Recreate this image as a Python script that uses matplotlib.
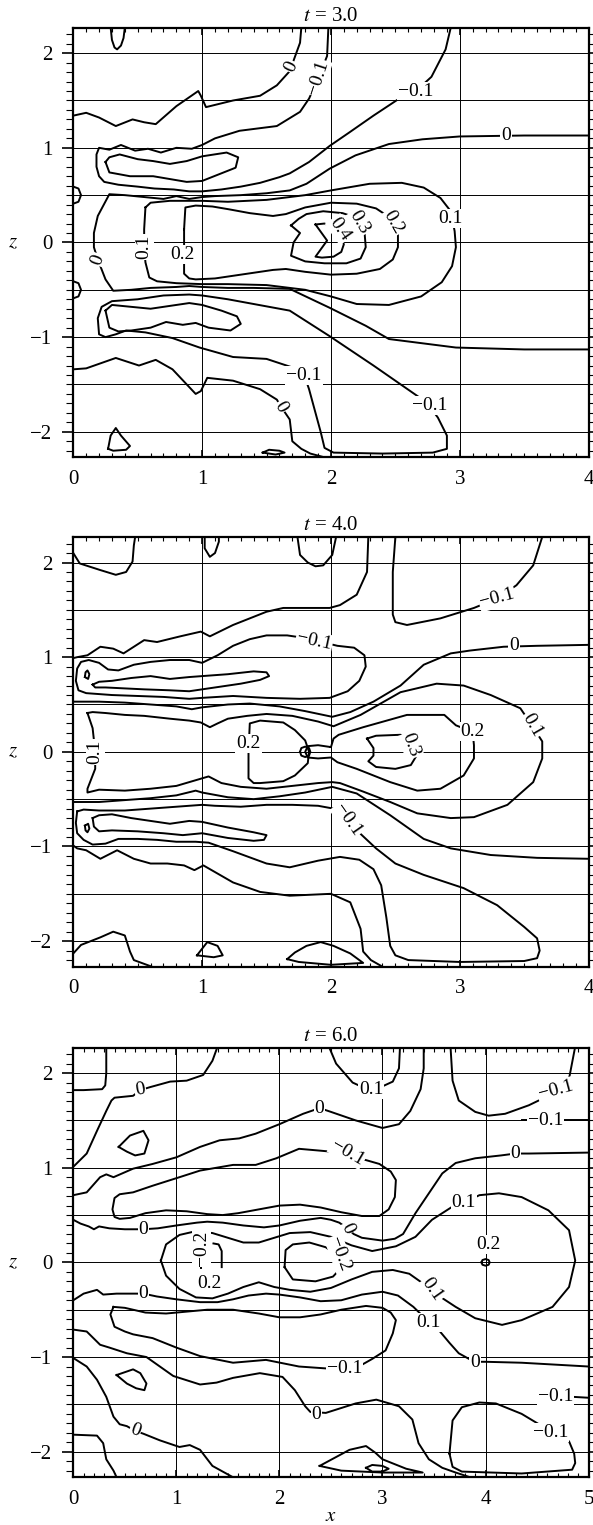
import numpy as np
import matplotlib.pyplot as plt
from matplotlib.ticker import MultipleLocator

plt.rcParams['font.family'] = ['Liberation Serif', 'DejaVu Serif']
plt.rcParams['mathtext.fontset'] = 'stix'

# ---------------- t = 3.0 : contour polylines (x, z)
t3_lines = [
    ([0.29, 0.30, 0.32, 0.34, 0.37, 0.39, 0.40], [2.27, 2.14, 2.06, 2.04, 2.08, 2.16, 2.27]),
    ([0, 0.1, 0.2, 0.33, 0.46, 0.55, 0.64, 0.8, 0.97, 0.99, 1.03, 1.24, 1.45, 1.58, 1.68, 1.76, 1.77],
     [1.34, 1.37, 1.32, 1.23, 1.30, 1.27, 1.25, 1.44, 1.60, 1.55, 1.43, 1.50, 1.55, 1.66, 1.81, 2.11, 2.27]),
    ([1.98, 1.97, 1.90, 1.83, 1.76, 1.58, 1.29, 1.1, 1.0, 0.92, 0.8, 0.68, 0.58, 0.48, 0.37, 0.28, 0.2, 0.18,
      0.18, 0.2, 0.24, 0.35, 0.5, 0.63, 0.78, 0.9, 1.0, 1.15, 1.3, 1.45, 1.6, 1.68, 1.83, 1.99, 2.14, 2.33,
      2.53, 2.66, 2.78, 2.89, 2.93],
     [2.27, 1.97, 1.73, 1.52, 1.38, 1.23, 1.18, 1.1, 1.03, 0.99, 1.0, 0.95, 0.99, 0.97, 1.03, 0.98, 1.0, 0.93,
      0.8, 0.7, 0.64, 0.61, 0.59, 0.57, 0.56, 0.54, 0.54, 0.56, 0.59, 0.63, 0.69, 0.73, 0.85, 1.02, 1.16, 1.34,
      1.52, 1.60, 1.75, 2.04, 2.27]),
    ([0.25, 0.28, 0.36, 0.5, 0.62, 0.75, 0.88, 1.0, 1.19, 1.28, 1.26, 1.13, 1.0, 0.88, 0.75, 0.62, 0.44, 0.28, 0.25],
     [0.85, 0.9, 0.93, 0.88, 0.86, 0.83, 0.86, 0.91, 0.95, 0.9, 0.79, 0.72, 0.65, 0.64, 0.67, 0.70, 0.70, 0.74, 0.85]),
    ([0.25, 0.3, 0.45, 0.6, 0.75, 0.9, 1.0, 1.15, 1.27, 1.3, 1.22, 1.05, 0.95, 0.85, 0.72, 0.6, 0.45, 0.35, 0.28, 0.25],
     [-0.72, -0.66, -0.68, -0.70, -0.67, -0.64, -0.66, -0.72, -0.78, -0.86, -0.93, -0.9, -0.85, -0.87, -0.84,
      -0.9, -0.93, -0.94, -0.9, -0.72]),
    ([4.0, 3.5, 3.0, 2.71, 2.45, 2.19, 1.99, 1.81, 1.68, 1.5, 1.3, 1.1, 1.0, 0.9, 0.8, 0.7, 0.55, 0.4, 0.28, 0.19,
      0.16, 0.16, 0.19, 0.25, 0.31, 0.45, 0.6, 0.8, 0.9, 1.0, 1.2, 1.4, 1.68, 1.99, 2.27, 2.45, 2.97, 3.5, 4.0],
     [1.13, 1.13, 1.12, 1.09, 1.04, 0.92, 0.78, 0.62, 0.55, 0.52, 0.5, 0.49, 0.48, 0.46, 0.49, 0.46, 0.48, 0.5,
      0.51, 0.28, 0.1, -0.05, -0.18, -0.39, -0.51, -0.5, -0.48, -0.47, -0.46, -0.47, -0.48, -0.48, -0.49, -0.69,
      -0.88, -1.02, -1.11, -1.13, -1.13]),
    ([1.81, 1.83, 1.87, 1.92, 1.95, 2.02, 2.4, 2.79, 2.9, 2.9, 2.83, 2.77, 2.69, 2.33, 1.99, 1.68, 1.4, 1.2, 1.0,
      0.9, 0.7, 0.5, 0.3, 0.22, 0.19, 0.2, 0.25, 0.33, 0.41, 0.56, 0.77, 0.98, 1.24, 1.50, 1.70, 1.81],
     [-1.47, -1.55, -1.75, -2.0, -2.17, -2.22, -2.23, -2.22, -2.18, -2.04, -1.85, -1.74, -1.64, -1.3, -0.99, -0.72,
      -0.65, -0.6, -0.56, -0.55, -0.56, -0.6, -0.62, -0.68, -0.8, -0.97, -1.0, -0.97, -0.93, -0.95, -1.01, -1.11,
      -1.21, -1.23, -1.32, -1.47]),
    ([0, 0.1, 0.33, 0.51, 0.64, 0.77, 0.95, 0.99, 1.04, 1.24, 1.45, 1.58, 1.61, 1.68, 1.70, 1.77, 1.84, 1.95],
     [-1.34, -1.33, -1.22, -1.30, -1.24, -1.34, -1.60, -1.57, -1.43, -1.46, -1.55, -1.66, -1.73, -1.87, -2.1,
      -2.18, -2.23, -2.27]),
    ([0.56, 0.6, 0.75, 0.9, 1.0, 1.2, 1.5, 1.8, 2.0, 2.3, 2.55, 2.72, 2.85, 2.93, 2.96, 2.97, 2.94, 2.86, 2.7,
      2.45, 2.2, 2.0, 1.8, 1.5, 1.2, 1.0, 0.8, 0.65, 0.59, 0.56, 0.55, 0.55, 0.56],
     [0.37, 0.42, 0.44, 0.44, 0.44, 0.43, 0.45, 0.5, 0.55, 0.62, 0.63, 0.58, 0.47, 0.33, 0.12, -0.05, -0.25,
      -0.42, -0.57, -0.66, -0.65, -0.57, -0.5, -0.45, -0.44, -0.44, -0.43, -0.41, -0.37, -0.21, -0.05, 0.14, 0.37]),
    ([0.86, 0.87, 0.95, 1.08, 1.21, 1.37, 1.55, 1.65, 1.8, 2.0, 2.2, 2.35, 2.45, 2.52, 2.52, 2.48, 2.38, 2.2,
      2.0, 1.8, 1.65, 1.55, 1.3, 1.1, 0.95, 0.9, 0.86, 0.86, 0.86],
     [0.14, 0.37, 0.39, 0.38, 0.35, 0.31, 0.28, 0.3, 0.37, 0.42, 0.41, 0.36, 0.27, 0.1, -0.05, -0.18, -0.28,
      -0.33, -0.34, -0.31, -0.28, -0.29, -0.34, -0.38, -0.39, -0.38, -0.33, -0.13, 0.14]),
    ([1.69, 1.75, 1.81, 1.94, 2.09, 2.2, 2.26, 2.27, 2.23, 2.12, 1.95, 1.8, 1.69, 1.71, 1.76, 1.69],
     [0.18, 0.25, 0.3, 0.33, 0.31, 0.26, 0.12, -0.05, -0.17, -0.22, -0.22, -0.2, -0.14, 0.0, 0.1, 0.18]),
    ([1.88, 1.95, 2.02, 2.08, 2.1, 2.08, 2.02, 1.93, 1.88, 1.97, 1.88],
     [0.19, 0.2, 0.16, 0.08, -0.02, -0.1, -0.15, -0.16, -0.15, 0.02, 0.19]),
    ([0, 0.04, 0.06, 0.04, 0], [0.59, 0.57, 0.5, 0.43, 0.41]),
    ([0, 0.04, 0.06, 0.04, 0], [-0.41, -0.43, -0.5, -0.57, -0.59]),
    ([0.27, 0.29, 0.33, 0.37, 0.44, 0.41, 0.31, 0.27], [-2.18, -2.04, -1.96, -2.04, -2.15, -2.19, -2.2, -2.18]),
    ([1.47, 1.52, 1.6, 1.64, 1.57, 1.47], [-2.22, -2.19, -2.2, -2.22, -2.24, -2.22]),
]
t3_labels = [
    ("0", 1.69, 1.86, 65), ("−0.1", 1.90, 1.74, 72), ("−0.1", 2.66, 1.60, 0),
    ("0", 3.36, 1.13, 0), ("0.1", 2.93, 0.25, 0), ("0.2", 2.48, 0.21, -60),
    ("0.3", 2.22, 0.21, -60), ("0.4", 2.07, 0.14, -55), ("0.2", 0.85, -0.13, 0),
    ("0.1", 0.55, -0.05, 90), ("0", 0.19, -0.18, 70), ("−0.1", 1.79, -1.41, 0),
    ("−0.1", 2.77, -1.72, 0), ("0", 1.61, -1.74, -60),
]

# ---------------- t = 4.0
t4_lines = [
    ([0, 0.05, 0.21, 0.33, 0.41, 0.46, 0.47, 0.48], [2.10, 1.99, 1.92, 1.87, 1.90, 2.01, 2.18, 2.27]),
    ([1.02, 1.02, 1.06, 1.10, 1.13, 1.13], [2.27, 2.15, 2.06, 2.10, 2.22, 2.27]),
    ([1.74, 1.76, 1.82, 1.88, 1.94, 2.01, 2.04], [2.27, 2.08, 2.0, 1.96, 1.97, 2.08, 2.27]),
    ([0, 0.03, 0.11, 0.21, 0.31, 0.39, 0.55, 0.65, 0.83, 0.99, 1.06, 1.24, 1.5, 1.63, 1.76, 1.99, 2.07, 2.20,
      2.28, 2.29],
     [0.99, 1.0, 1.02, 1.11, 1.09, 1.04, 1.18, 1.16, 1.22, 1.27, 1.22, 1.34, 1.48, 1.52, 1.52, 1.52, 1.55, 1.66,
      1.90, 2.27]),
    ([1.96, 2.05, 2.18, 2.26, 2.27, 2.22, 2.13, 1.99, 1.76, 1.5, 1.24, 1.0, 0.9, 0.7, 0.5, 0.3, 0.1, 0.04, 0.02,
      0.03, 0.06, 0.12, 0.2, 0.27, 0.35, 0.47, 0.6, 0.75, 0.9, 1.0, 1.12, 1.24, 1.37, 1.5, 1.66, 1.76, 1.87, 1.96],
     [1.15, 1.12, 1.1, 1.02, 0.9, 0.75, 0.64, 0.57, 0.56, 0.57, 0.59, 0.57, 0.56, 0.58, 0.59, 0.6, 0.62, 0.65,
      0.75, 0.88, 0.95, 0.97, 0.94, 0.87, 0.86, 0.92, 0.95, 0.97, 0.97, 0.94, 1.02, 1.12, 1.19, 1.23, 1.23, 1.21,
      1.18, 1.15]),
    ([0.15, 0.2, 0.3, 0.45, 0.6, 0.75, 0.9, 1.0, 1.2, 1.4, 1.5, 1.52, 1.45, 1.3, 1.15, 1.0, 0.9, 0.75, 0.55, 0.4,
      0.25, 0.17, 0.15],
     [0.71, 0.74, 0.75, 0.78, 0.8, 0.77, 0.79, 0.8, 0.82, 0.85, 0.84, 0.8, 0.76, 0.72, 0.69, 0.66, 0.64, 0.65,
      0.66, 0.67, 0.68, 0.68, 0.71]),
    ([0.09, 0.095, 0.11, 0.125, 0.115, 0.09], [0.79, 0.84, 0.86, 0.82, 0.77, 0.79]),
    ([0, 0.05, 0.2, 0.4, 0.6, 0.8, 0.92, 1.0, 1.2, 1.37, 1.6, 1.8, 2.01, 2.15, 2.33, 2.54, 2.72, 2.93, 3.08,
      3.34, 3.6, 4.0],
     [0.53, 0.53, 0.53, 0.52, 0.5, 0.48, 0.45, 0.47, 0.5, 0.51, 0.48, 0.43, 0.37, 0.42, 0.53, 0.70, 0.92, 1.04,
      1.07, 1.11, 1.12, 1.13]),
    ([0.11, 0.15, 0.25, 0.4, 0.55, 0.75, 0.9, 0.99, 1.06, 1.12, 1.2, 1.35, 1.5, 1.7, 1.9, 2.02, 2.23, 2.54, 2.82,
      3.03, 3.24, 3.47, 3.56, 3.64, 3.64, 3.57, 3.37, 3.11, 2.93, 2.67, 2.46, 2.25, 2.07, 2.01, 1.9, 1.7, 1.5,
      1.3, 1.15, 1.05, 0.95, 0.8, 0.6, 0.4, 0.2, 0.11, 0.11, 0.17, 0.17, 0.15, 0.11],
     [0.41, 0.42, 0.41, 0.39, 0.38, 0.35, 0.33, 0.31, 0.26, 0.3, 0.35, 0.38, 0.4, 0.38, 0.32, 0.27, 0.39, 0.63,
      0.72, 0.7, 0.6, 0.46, 0.28, 0.11, -0.07, -0.32, -0.56, -0.69, -0.7, -0.65, -0.53, -0.42, -0.33, -0.32,
      -0.33, -0.36, -0.39, -0.37, -0.33, -0.26, -0.3, -0.36, -0.39, -0.41, -0.4, -0.43, -0.39, -0.18, 0.0, 0.25,
      0.41]),
    ([1.36, 1.37, 1.45, 1.63, 1.72, 1.80, 1.83, 1.82, 1.72, 1.63, 1.45, 1.40, 1.36, 1.36],
     [0.0, 0.3, 0.33, 0.31, 0.23, 0.12, 0.0, -0.12, -0.25, -0.31, -0.33, -0.33, -0.28, 0.0]),
    ([1.76, 1.77, 1.80, 1.83, 1.84, 1.83, 1.80, 1.77, 1.76], [0, 0.04, 0.055, 0.04, 0, -0.04, -0.055, -0.04, 0]),
    ([2.0, 1.9, 1.82, 1.80, 1.82, 1.9, 2.0, 2.05, 2.2, 2.46, 2.67, 2.85, 3.03, 3.11, 3.11, 3.10, 2.97, 2.88,
      2.59, 2.25, 2.06, 2.02, 2.0],
     [0.05, 0.07, 0.06, 0.0, -0.06, -0.07, -0.06, -0.11, -0.18, -0.32, -0.41, -0.39, -0.25, -0.07, 0.07, 0.21,
      0.28, 0.39, 0.39, 0.26, 0.18, 0.14, 0.05]),
    ([2.28, 2.35, 2.54, 2.62, 2.66, 2.62, 2.5, 2.35, 2.29, 2.33, 2.33, 2.28],
     [0.14, 0.17, 0.18, 0.1, -0.05, -0.14, -0.18, -0.16, -0.1, -0.04, 0.04, 0.14]),
    ([2.5, 2.48, 2.48, 2.5, 2.59, 2.85, 3.11, 3.29, 3.44, 3.57, 3.64],
     [2.27, 1.90, 1.45, 1.37, 1.34, 1.41, 1.52, 1.62, 1.76, 1.97, 2.27]),
    ([0, 0.2, 0.4, 0.6, 0.8, 0.95, 1.0, 1.2, 1.4, 1.6, 1.8, 2.01, 2.2, 2.46, 2.72, 2.93, 3.24, 3.6, 4.0],
     [-0.53, -0.53, -0.51, -0.49, -0.46, -0.41, -0.43, -0.48, -0.5, -0.47, -0.43, -0.37, -0.44, -0.67, -0.92,
      -1.02, -1.09, -1.12, -1.13]),
    ([0.03, 0.02, 0.03, 0.08, 0.15, 0.25, 0.35, 0.5, 0.65, 0.8, 0.95, 1.05, 1.24, 1.5, 1.68, 1.9, 2.07, 2.22,
      2.33, 2.39, 2.43, 2.46, 2.5, 2.6, 3.0, 3.5, 3.6, 3.62, 3.6, 3.5, 3.29, 3.03, 2.72, 2.5, 2.35, 2.24, 2.12,
      2.02, 1.9, 1.7, 1.5, 1.3, 1.1, 1.0, 0.8, 0.6, 0.4, 0.2, 0.08, 0.03],
     [-0.63, -0.75, -0.86, -0.93, -0.98, -0.97, -0.92, -0.92, -0.93, -0.95, -0.95, -0.96, -1.05, -1.18, -1.22,
      -1.15, -1.11, -1.14, -1.24, -1.41, -1.75, -2.05, -2.15, -2.2, -2.22, -2.21, -2.18, -2.1, -1.97, -1.85,
      -1.62, -1.44, -1.30, -1.18, -1.02, -0.88, -0.72, -0.6, -0.57, -0.56, -0.56, -0.58, -0.57, -0.56, -0.58,
      -0.6, -0.62, -0.62, -0.61, -0.63]),
    ([0.15, 0.2, 0.3, 0.45, 0.6, 0.75, 0.9, 1.0, 1.2, 1.4, 1.5, 1.48, 1.4, 1.2, 1.0, 0.85, 0.7, 0.5, 0.3, 0.2,
      0.16, 0.15],
     [-0.7, -0.67, -0.66, -0.7, -0.73, -0.76, -0.73, -0.74, -0.8, -0.85, -0.88, -0.93, -0.94, -0.91, -0.86,
      -0.88, -0.86, -0.84, -0.83, -0.84, -0.79, -0.7]),
    ([0.09, 0.095, 0.11, 0.125, 0.115, 0.09], [-0.78, -0.83, -0.85, -0.81, -0.76, -0.78]),
    ([0, 0.03, 0.1, 0.21, 0.34, 0.47, 0.6, 0.73, 0.86, 0.94, 1.01, 1.24, 1.45, 1.68, 2.0, 2.15, 2.23, 2.25,
      2.31, 2.4],
     [-0.99, -1.02, -1.04, -1.13, -1.04, -1.13, -1.18, -1.18, -1.2, -1.25, -1.20, -1.38, -1.48, -1.52, -1.50,
      -1.59, -1.87, -2.11, -2.2, -2.27]),
    ([0, 0.06, 0.21, 0.31, 0.4, 0.44, 0.47, 0.57, 0.61], [-2.13, -2.04, -1.96, -1.90, -1.94, -2.11, -2.2, -2.25, -2.27]),
    ([0.96, 1.04, 1.12, 1.16, 1.09, 0.96], [-2.15, -2.01, -2.05, -2.15, -2.17, -2.15]),
    ([1.66, 1.72, 1.81, 1.92, 2.02, 2.15, 2.25, 2.0, 1.75, 1.66],
     [-2.19, -2.12, -2.05, -2.01, -2.05, -2.13, -2.23, -2.25, -2.22, -2.19]),
]
t4_labels = [
    ("−0.1", 3.29, 1.62, 15), ("0", 3.42, 1.12, 0), ("−0.1", 1.87, 1.17, -12),
    ("0.2", 1.36, 0.09, 0), ("0.3", 2.62, 0.07, -70), ("0.2", 3.10, 0.21, 0),
    ("0.1", 3.56, 0.28, -60), ("0.1", 0.17, 0.0, 90), ("−0.1", 2.13, -0.72, -55),
]

# ---------------- t = 6.0
t6_lines = [
    ([0.32, 0.32, 0.31, 0.28, 0.1, 0], [2.28, 2.0, 1.87, 1.83, 1.82, 1.82]),
    ([0, 0.13, 0.23, 0.32, 0.37, 0.4, 0.58, 0.65, 0.74, 0.94, 1.1, 1.26, 1.35, 1.4],
     [1.01, 1.15, 1.39, 1.6, 1.71, 1.74, 1.76, 1.82, 1.85, 1.91, 1.92, 1.98, 2.13, 2.28]),
    ([0.44, 0.55, 0.68, 0.73, 0.69, 0.6, 0.52, 0.44], [1.22, 1.34, 1.39, 1.29, 1.15, 1.13, 1.17, 1.22]),
    ([0, 0.13, 0.26, 0.32, 0.39, 0.58, 0.77, 1.0, 1.23, 1.42, 1.61, 1.77, 2.0, 2.23, 2.39, 2.5, 2.74, 3.0, 3.16,
      3.27, 3.37, 3.4, 3.4],
     [0.71, 0.74, 0.9, 0.93, 0.9, 0.99, 1.04, 1.11, 1.22, 1.29, 1.31, 1.36, 1.46, 1.57, 1.63, 1.59, 1.5, 1.42,
      1.46, 1.6, 1.83, 2.05, 2.28]),
    ([2.5, 2.4, 2.19, 1.97, 1.77, 1.55, 1.23, 1.03, 0.77, 0.58, 0.45, 0.4, 0.38, 0.4, 0.45, 0.55, 0.7, 0.9, 1.1,
      1.3, 1.45, 1.6, 1.8, 2.0, 2.2, 2.4, 2.6, 2.8, 2.97, 3.06, 3.12, 3.13, 3.08, 2.97, 2.81, 2.66, 2.5],
     [1.17, 1.18, 1.2, 1.1, 1.03, 1.03, 0.97, 0.9, 0.81, 0.74, 0.72, 0.68, 0.56, 0.48, 0.46, 0.47, 0.52, 0.55,
      0.54, 0.51, 0.5, 0.52, 0.56, 0.6, 0.61, 0.58, 0.53, 0.49, 0.49, 0.56, 0.69, 0.87, 0.96, 1.04, 1.09, 1.14,
      1.17]),
    ([2.48, 2.55, 2.71, 2.77, 2.89, 3.0, 3.1, 3.16, 3.17], [2.28, 2.1, 1.9, 1.87, 1.84, 1.86, 1.91, 2.05, 2.28]),
    ([3.66, 3.68, 3.74, 3.9, 4.03, 4.19, 4.42, 4.61, 4.68, 4.81, 4.87],
     [2.28, 1.92, 1.71, 1.59, 1.55, 1.57, 1.66, 1.76, 1.82, 1.94, 2.28]),
    ([4.35, 4.5, 4.7, 5.0], [1.5, 1.5, 1.5, 1.5]),
    ([0, 0.07, 0.15, 0.2, 0.25, 0.35, 0.5, 0.68, 0.82, 1.0, 1.2, 1.3, 1.45, 1.65, 1.85, 2.0, 2.2, 2.4, 2.5,
      2.58, 2.66, 2.72, 2.8, 3.0, 3.12, 3.2, 3.32, 3.45, 3.58, 3.71, 3.9, 4.15, 4.29, 4.42, 5.0],
     [0.45, 0.41, 0.38, 0.35, 0.38, 0.36, 0.35, 0.35, 0.36, 0.39, 0.42, 0.43, 0.42, 0.39, 0.37, 0.39, 0.44,
      0.47, 0.45, 0.42, 0.36, 0.3, 0.26, 0.23, 0.25, 0.3, 0.52, 0.73, 0.94, 1.05, 1.1, 1.13, 1.15, 1.15, 1.16]),
    ([0.85, 0.9, 1.03, 1.19, 1.35, 1.5, 1.65, 1.8, 1.95, 2.1, 2.3, 2.5, 2.7, 2.9, 3.13, 3.32, 3.48, 3.68, 3.79,
      3.94, 4.13, 4.35, 4.61, 4.81, 4.87, 4.81, 4.65, 4.35, 4.16, 3.9, 3.71, 3.57, 3.48, 3.39, 3.26, 3.1, 2.9,
      2.7, 2.5, 2.3, 2.1, 1.95, 1.8, 1.65, 1.5, 1.35, 1.19, 1.03, 0.9, 0.85],
     [0.02, 0.19, 0.29, 0.33, 0.31, 0.26, 0.21, 0.21, 0.26, 0.31, 0.32, 0.27, 0.18, 0.12, 0.17, 0.27, 0.45, 0.59,
      0.63, 0.71, 0.73, 0.69, 0.55, 0.34, 0.02, -0.26, -0.47, -0.61, -0.66, -0.59, -0.47, -0.37, -0.29, -0.22,
      -0.12, -0.08, -0.1, -0.18, -0.27, -0.31, -0.29, -0.26, -0.21, -0.26, -0.33, -0.38, -0.37, -0.28, -0.14,
      0.02]),
    ([2.05, 2.06, 2.13, 2.29, 2.45, 2.55, 2.6, 2.58, 2.52, 2.35, 2.13, 2.05],
     [-0.05, 0.13, 0.19, 0.21, 0.16, 0.08, -0.02, -0.08, -0.15, -0.2, -0.18, -0.05]),
    ([1.24, 1.24], [0.02, -0.06]),
    ([1.36, 1.41, 1.44, 1.44], [0.2, 0.19, 0.12, -0.05]),
    ([0.39, 0.36, 0.4, 0.5, 0.58, 0.77, 1.0, 1.23, 1.55, 1.87, 2.19, 2.45, 2.63, 2.77, 2.9, 3.03, 3.1, 3.13,
      3.08, 3.0, 2.84, 2.6, 2.4, 2.2, 2.0, 1.8, 1.55, 1.3, 1.1, 0.9, 0.7, 0.5, 0.39],
     [-0.47, -0.55, -0.68, -0.73, -0.76, -0.8, -0.9, -0.99, -1.06, -1.03, -1.1, -1.12, -1.12, -1.1, -1.02,
      -0.93, -0.75, -0.61, -0.53, -0.48, -0.46, -0.5, -0.55, -0.58, -0.58, -0.54, -0.5, -0.5, -0.52, -0.54,
      -0.53, -0.48, -0.47]),
    ([0, 0.1, 0.23, 0.29, 0.42, 0.55, 0.68, 0.81, 1.0, 1.23, 1.4, 1.55, 1.7, 1.87, 2.0, 2.2, 2.4, 2.6, 2.8, 3.0,
      3.15, 3.3, 3.45, 3.55, 3.65, 3.74, 3.84, 3.9, 4.0, 4.35, 5.0],
     [-0.4, -0.33, -0.29, -0.34, -0.33, -0.33, -0.33, -0.36, -0.39, -0.42, -0.42, -0.39, -0.35, -0.33, -0.34,
      -0.37, -0.41, -0.4, -0.34, -0.31, -0.35, -0.47, -0.63, -0.72, -0.85, -0.96, -1.02, -1.05, -1.05, -1.06,
      -1.1]),
    ([0, 0.13, 0.26, 0.35, 0.52, 0.71, 0.97, 1.23, 1.39, 1.55, 1.81, 2.03, 2.15, 2.25, 2.3, 2.45, 2.74, 2.94,
      3.16, 3.29, 3.35, 3.45, 3.58, 3.71, 3.85],
     [-0.71, -0.73, -0.87, -0.9, -0.96, -1.0, -1.2, -1.29, -1.27, -1.22, -1.17, -1.21, -1.35, -1.52, -1.58,
      -1.59, -1.49, -1.45, -1.52, -1.66, -1.91, -2.08, -2.17, -2.22, -2.27]),
    ([0, 0.13, 0.23, 0.32, 0.39, 0.45, 0.52, 0.6, 0.68, 0.84, 1.03, 1.13, 1.23, 1.35, 1.55],
     [-1.01, -1.1, -1.24, -1.42, -1.63, -1.71, -1.73, -1.78, -1.81, -1.88, -1.95, -1.93, -1.98, -2.15, -2.27]),
    ([0.42, 0.58, 0.65, 0.71, 0.69, 0.61, 0.52, 0.42], [-1.19, -1.13, -1.17, -1.28, -1.35, -1.33, -1.28, -1.19]),
    ([0, 0.23, 0.29, 0.32, 0.39, 0.42], [-1.82, -1.83, -1.91, -2.08, -2.2, -2.27]),
    ([2.39, 2.68, 2.84, 2.93, 3.0, 3.23, 3.39, 3.0, 2.6, 2.39],
     [-2.15, -1.98, -1.94, -2.01, -2.08, -2.18, -2.22, -2.22, -2.2, -2.15]),
    ([2.84, 2.9, 3.0, 3.06, 3.0, 2.9, 2.84], [-2.17, -2.14, -2.15, -2.18, -2.21, -2.21, -2.17]),
    ([3.65, 3.68, 3.77, 3.94, 4.1, 4.35, 4.61, 4.65, 4.81, 4.86, 4.87, 4.84, 4.35, 3.77, 3.68, 3.65],
     [-2.02, -1.67, -1.53, -1.48, -1.49, -1.60, -1.77, -1.80, -1.89, -2.02, -2.12, -2.19, -2.23, -2.21, -2.16,
      -2.02]),
    ([3.96, 3.97, 4.0, 4.03, 4.04, 4.03, 4.0, 3.97, 3.96], [0, 0.025, 0.035, 0.025, 0, -0.025, -0.035, -0.025, 0]),
    ([4.84, 5.0], [-1.42, -1.43]),
]
t6_labels = [
    ("0", 0.65, 1.82, 10), ("0", 2.39, 1.63, 0), ("0.1", 2.89, 1.83, 0),
    ("−0.1", 4.68, 1.82, 15), ("−0.1", 4.58, 1.50, 0), ("−0.1", 2.66, 1.16, -30),
    ("0", 4.29, 1.15, 0), ("0.1", 3.79, 0.63, 0), ("0.2", 4.03, 0.19, 0),
    ("0", 0.68, 0.35, 0), ("0", 2.66, 0.36, -65), ("−0.2", 2.58, 0.09, -70),
    ("−0.2", 1.24, 0.15, 90), ("0.2", 1.32, -0.22, 0), ("0", 0.68, -0.33, 0),
    ("0.1", 3.48, -0.29, -55), ("0.1", 3.45, -0.63, 0), ("0", 3.9, -1.06, 0),
    ("−0.1", 2.63, -1.12, 0), ("−0.1", 4.68, -1.42, 0), ("−0.1", 4.63, -1.80, 0),
    ("0", 2.36, -1.61, 0), ("0", 0.6, -1.78, -20),
]

panels = [
    ("3.0", 4, t3_lines, t3_labels, 0.7001),
    ("4.0", 4, t4_lines, t4_labels, 0.3661),
    ("6.0", 5, t6_lines, t6_labels, 0.0313),
]
zlim = 2.27

fig = plt.figure(figsize=(5.93, 15.25), dpi=100)

for i, (t, xmax, lines, labels, bottom) in enumerate(panels):
    ax = fig.add_axes([0.1236, bottom, 0.8690, 0.2818])

    # grid
    for gx in range(1, xmax):
        ax.axvline(gx, color='k', lw=0.7, zorder=1)
    for gz in np.arange(-2, 2.01, 0.5):
        ax.axhline(gz, color='k', lw=0.7, zorder=1)

    for xs, zs in lines:
        ax.plot(xs, zs, color='k', lw=1.4, zorder=2, solid_joinstyle='round')

    for s, lx, lz, rot in labels:
        ax.text(lx, lz, s, rotation=rot, ha='center', va='center', fontsize=14,
                rotation_mode='anchor', zorder=3,
                bbox=dict(boxstyle='square,pad=0.05', fc='white', ec='none'))

    ax.set_xlim(0, xmax)
    ax.set_ylim(-zlim, zlim)
    ax.set_xticks(range(0, xmax + 1))
    ax.set_yticks([-2, -1, 0, 1, 2])
    ax.xaxis.set_minor_locator(MultipleLocator(0.1))
    ax.yaxis.set_minor_locator(MultipleLocator(0.1))
    ax.tick_params(axis='x', which='both', direction='in', top=True, bottom=True,
                   labelsize=15, pad=9)
    ax.tick_params(axis='x', which='major', length=5, width=1.2)
    ax.tick_params(axis='x', which='minor', length=3, width=0.8)
    ax.tick_params(axis='y', which='both', direction='out', left=True, right=True,
                   labelsize=15, pad=7)
    ax.tick_params(axis='y', which='major', length=8, width=1.2)
    ax.tick_params(axis='y', which='minor', length=5, width=0.8)
    for sp in ax.spines.values():
        sp.set_linewidth(1.6)

    ax.set_title(r"$t$ = " + t, fontsize=15, pad=5)
    ax.text(-0.117, 0.5, r"$z$", transform=ax.transAxes, fontsize=15,
            ha='center', va='center')
    if i == 2:
        ax.text(0.5, -0.092, r"$x$", transform=ax.transAxes, fontsize=15,
                ha='center', va='center')

fig.savefig("out.png", dpi=100)
